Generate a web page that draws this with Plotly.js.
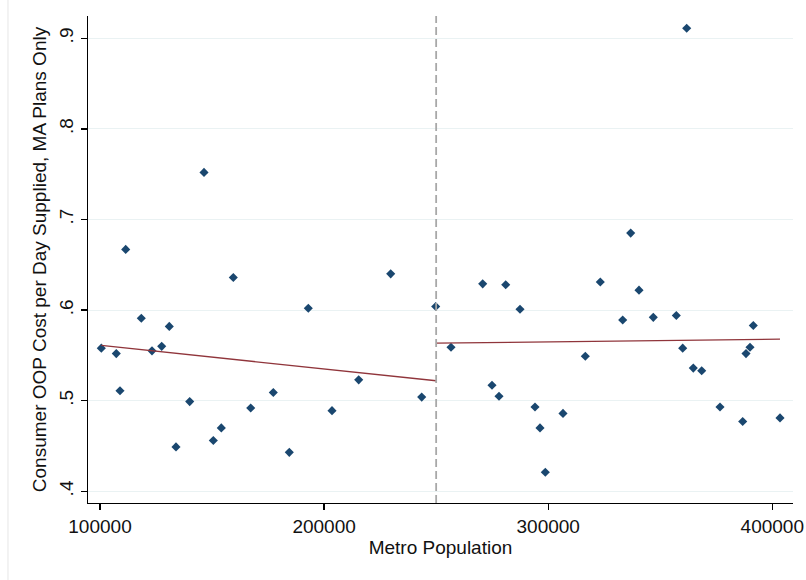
<!DOCTYPE html>
<html>
<head>
<meta charset="utf-8">
<script src="https://cdn.plot.ly/plotly-3.0.1.min.js"></script>
<style>html,body{margin:0;padding:0;background:#fff;}#chart{width:806px;height:580px;}</style>
</head>
<body>
<div id="chart"></div>
<script>
// Scatter data: metro population vs consumer OOP cost per day supplied
var metroPop = [
  100580, 107270, 108920, 111470, 118430, 123200, 127530, 130920, 133910, 140030,
  146410, 150560, 154130, 159480, 167250, 177330, 184470, 192950, 203530, 215440,
  229720, 243550, 249800,
  256630, 270770, 274920, 278050, 281040, 287420, 294110, 296340, 298710, 306600,
  316560, 323250, 333240, 336810, 340520, 346900, 357160, 360020, 361800, 364750,
  368500, 376660, 386790, 388270, 390050, 391520, 403440
];
var oopCost = [
  0.558, 0.552, 0.511, 0.667, 0.591, 0.555, 0.560, 0.582, 0.449, 0.499,
  0.752, 0.456, 0.470, 0.636, 0.492, 0.509, 0.443, 0.602, 0.489, 0.523,
  0.640, 0.504, 0.604,
  0.559, 0.629, 0.517, 0.505, 0.628, 0.601, 0.493, 0.470, 0.421, 0.486,
  0.549, 0.631, 0.589, 0.685, 0.622, 0.592, 0.594, 0.558, 0.911, 0.536,
  0.533, 0.493, 0.477, 0.552, 0.559, 0.583, 0.481
];
// Fitted lines, left and right of the cutoff
var fitLeftX = [100580, 250000];
var fitLeftY = [0.561, 0.522];
var fitRightX = [250000, 403440];
var fitRightY = [0.5635, 0.568];
var cutoff = 250000;
// Tick labels
var xTickVals = [100000, 200000, 300000, 400000];
var xTickText = ["100000", "200000", "300000", "400000"];
var yTickVals = [0.4, 0.5, 0.6, 0.7, 0.8, 0.9];
var yTickText = [".4", ".5", ".6", ".7", ".8", ".9"];

var font = "Arial, 'Liberation Sans', sans-serif";
var txtColor = '#111';
var traces = [
  {x: metroPop, y: oopCost, type: 'scatter', mode: 'markers',
   marker: {symbol: 'diamond', size: 7, color: '#1a476f', line: {width: 0}},
   hoverinfo: 'x+y', showlegend: false},
  {x: fitLeftX, y: fitLeftY, type: 'scatter', mode: 'lines',
   line: {color: '#90353b', width: 1.3}, showlegend: false},
  {x: fitRightX, y: fitRightY, type: 'scatter', mode: 'lines',
   line: {color: '#90353b', width: 1.3}, showlegend: false}
];
var layout = {
  width: 806, height: 580,
  margin: {l: 88, r: 13, t: 16, b: 77, pad: 0},
  paper_bgcolor: '#ffffff', plot_bgcolor: '#ffffff',
  font: {family: font, size: 19, color: txtColor},
  showlegend: false,
  xaxis: {
    range: [94645, 409237], tickmode: 'array', tickvals: xTickVals, ticktext: xTickText,
    showgrid: false, zeroline: false, showline: true, linecolor: '#000', linewidth: 1.3,
    ticks: 'outside', ticklen: 6, tickwidth: 1.3, tickcolor: '#000',
    tickfont: {family: font, size: 19, color: txtColor},
    title: {text: 'Metro Population', font: {family: font, size: 19, color: txtColor}, standoff: 4},
    automargin: false
  },
  yaxis: {
    range: [0.3871, 0.9246], tickmode: 'array', tickvals: yTickVals, ticktext: yTickText,
    showgrid: true, gridcolor: '#eaf2f3', gridwidth: 1.2, zeroline: false,
    showline: true, linecolor: '#000', linewidth: 1.3,
    ticks: 'outside', ticklen: 6, tickwidth: 1.3, tickcolor: '#000', tickangle: -90,
    ticklabelstandoff: 0,
    tickfont: {family: font, size: 19, color: txtColor},
    title: {text: 'Consumer OOP Cost per Day Supplied, MA Plans Only', font: {family: font, size: 19, color: txtColor}, standoff: 4},
    automargin: false
  },
  shapes: [
    {type: 'line', xref: 'x', yref: 'paper', x0: cutoff, x1: cutoff, y0: 0, y1: 1,
     line: {color: '#a8a8a8', width: 1.8, dash: '8px,4px'}},
    {type: 'line', xref: 'paper', yref: 'paper', x0: -0.1135, x1: -0.1135, y0: -0.16, y1: 1.04,
     line: {color: '#e6e6e6', width: 1}}
  ]
};
Plotly.newPlot('chart', traces, layout, {displayModeBar: false, staticPlot: true});
</script>
</body>
</html>
